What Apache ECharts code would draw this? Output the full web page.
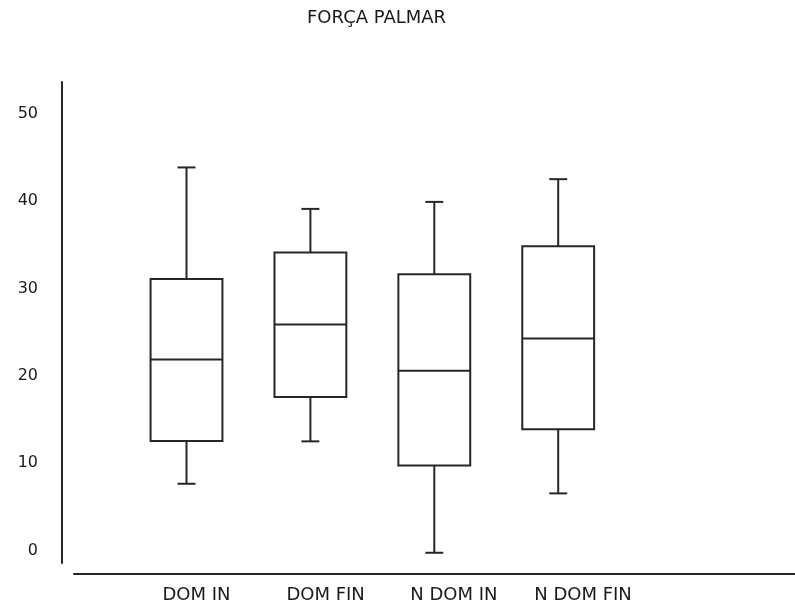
<!DOCTYPE html>
<html>
<head>
<meta charset="utf-8">
<script src="https://cdn.jsdelivr.net/npm/echarts@6/dist/echarts.min.js"></script>
<style>
  html, body { margin: 0; padding: 0; background: #fff; }
  #chart { width: 795px; height: 609px; }
</style>
</head>
<body>
<div id="chart"></div>
<script>
// ---- Data ----
const categories = ['DOM IN', 'DOM FIN', 'N DOM IN', 'N DOM FIN'];
const whiskerLow  = [7.66, 12.51, -0.23, 6.56];
const quartile1   = [12.54, 17.57, 9.76, 13.88];
const medians     = [21.88, 25.88, 20.58, 24.28];
const quartile3   = [31.06, 34.11, 31.63, 34.83];
const whiskerHigh = [43.83, 39.09, 39.89, 42.49];
const yTickValues = [0, 10, 20, 30, 40, 50];
const titleText = 'FORÇA PALMAR';

const boxData = categories.map((c, i) =>
  [i, whiskerLow[i], quartile1[i], medians[i], quartile3[i], whiskerHigh[i]]);

const INK = '#262626';
const FONT = 'DejaVu Sans';

const chart = echarts.init(document.getElementById('chart'), null, { renderer: 'canvas' });

const option = {
  animation: false,
  backgroundColor: '#ffffff',
  title: {
    text: titleText,
    left: 302,
    top: 4,
    textStyle: { fontFamily: FONT, fontSize: 18, fontWeight: 'normal', color: '#1a1a1a' }
  },
  grid: [
    { left: 124.55, right: 174.85, top: 82, bottom: 46, containLabel: false },
    { left: 74, right: 0, top: 560, bottom: 35, containLabel: false }
  ],
  xAxis: [
    {
      type: 'category',
      gridIndex: 0,
      data: categories,
      boundaryGap: true,
      offset: 11,
      axisLine: { show: false },
      axisTick: { show: false },
      splitLine: { show: false },
      axisLabel: {
        interval: 0, hideOverlap: false,
        fontFamily: FONT, fontSize: 18, color: '#1a1a1a',
        margin: 12, align: 'left', padding: [0, 0, 0, -24]
      }
    },
    {
      type: 'value',
      gridIndex: 1,
      min: 0, max: 1,
      axisLine: { show: true, lineStyle: { color: INK, width: 2 } },
      axisTick: { show: false },
      axisLabel: { show: false },
      splitLine: { show: false }
    }
  ],
  yAxis: [
    {
      type: 'value',
      gridIndex: 0,
      min: -1.4,
      max: 53.6,
      offset: 62.55,
      axisLine: { show: true, lineStyle: { color: INK, width: 2 } },
      axisTick: { show: false },
      splitLine: { show: false },
      axisLabel: {
        fontFamily: FONT, fontSize: 16, color: '#1a1a1a', margin: 24,
        showMinLabel: false, showMaxLabel: false,
        formatter: function (v) { return yTickValues.indexOf(v) >= 0 ? String(v) : ''; }
      }
    },
    {
      type: 'value',
      gridIndex: 1,
      show: false
    }
  ],
  series: [
    {
      type: 'custom',
      xAxisIndex: 0,
      yAxisIndex: 0,
      data: boxData,
      encode: { x: 0, y: [1, 2, 3, 4, 5] },
      renderItem: function (params, api) {
        const x = api.value(0);
        const lo = api.coord([x, api.value(1)]);
        const q1 = api.coord([x, api.value(2)]);
        const md = api.coord([x, api.value(3)]);
        const q3 = api.coord([x, api.value(4)]);
        const hi = api.coord([x, api.value(5)]);
        const band = api.size([1, 0])[0];
        const halfBox = band * 0.58 / 2;
        const halfCap = halfBox / 4;
        const cx = lo[0];
        const st = { stroke: INK, lineWidth: 2, fill: null };
        return {
          type: 'group',
          children: [
            { type: 'line', shape: { x1: cx, y1: hi[1], x2: cx, y2: q3[1] }, style: st },
            { type: 'line', shape: { x1: cx - halfCap, y1: hi[1], x2: cx + halfCap, y2: hi[1] }, style: st },
            { type: 'line', shape: { x1: cx, y1: q1[1], x2: cx, y2: lo[1] }, style: st },
            { type: 'line', shape: { x1: cx - halfCap, y1: lo[1], x2: cx + halfCap, y2: lo[1] }, style: st },
            { type: 'rect', shape: { x: cx - halfBox, y: q3[1], width: 2 * halfBox, height: q1[1] - q3[1] },
              style: { stroke: INK, lineWidth: 2, fill: '#ffffff' } },
            { type: 'line', shape: { x1: cx - halfBox, y1: md[1], x2: cx + halfBox, y2: md[1] }, style: st }
          ]
        };
      }
    }
  ]
};

chart.setOption(option);
</script>
</body>
</html>
